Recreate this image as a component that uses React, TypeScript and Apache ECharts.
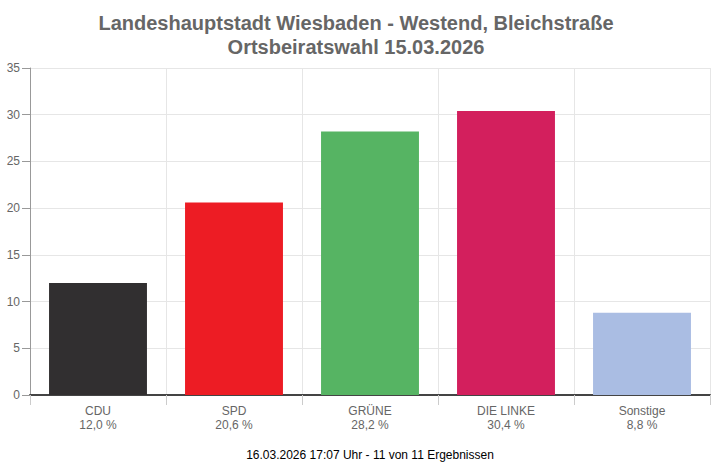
import React, { useEffect, useRef } from "react";
import * as echarts from "echarts";

const parties = ["CDU", "SPD", "GRÜNE", "DIE LINKE", "Sonstige"];
const shares = [12.0, 20.6, 28.2, 30.4, 8.8];
const colors = ["#312f30", "#ed1c24", "#56b463", "#d31f5d", "#aabde3"];
const titleLines = ["Landeshauptstadt Wiesbaden - Westend, Bleichstraße", "Ortsbeiratswahl 15.03.2026"];
const footer = "16.03.2026 17:07 Uhr - 11 von 11 Ergebnissen";

export default function App() {
  const ref = useRef<HTMLDivElement>(null);
  useEffect(() => {
    if (!ref.current) return;
    const chart = echarts.init(ref.current, null, { renderer: "svg" });
    const fmt = (v: number) => v.toFixed(1).replace(".", ",") + " %";
    chart.setOption({
      animation: false,
      title: {
        text: titleLines.join("\n"),
        left: "center",
        top: 6,
        textStyle: {
          fontFamily: "Liberation Sans, Arial, sans-serif",
          fontSize: 20,
          fontWeight: "bold",
          color: "#666666",
          lineHeight: 24,
        },
      },
      grid: { left: 30, right: 2, top: 68, bottom: 73, containLabel: false },
      xAxis: {
        type: "category",
        data: parties,
        axisLine: { lineStyle: { color: "#444444", width: 2 } },
        axisTick: { show: true, length: 10, lineStyle: { color: "#cccccc" } },
        splitLine: { show: true, lineStyle: { color: "#e6e6e6" } },
        axisLabel: {
          margin: 9,
          color: "#666666",
          fontSize: 12,
          lineHeight: 14,
          fontFamily: "Liberation Sans, Arial, sans-serif",
          formatter: (v: string, i: number) => v + "\n" + fmt(shares[i]),
        },
      },
      yAxis: {
        type: "value",
        min: 0,
        max: 35,
        interval: 5,
        axisLine: { show: true, lineStyle: { color: "#999999" } },
        axisTick: { show: true, length: 8, lineStyle: { color: "#999999" } },
        splitLine: { show: true, lineStyle: { color: "#e6e6e6" } },
        axisLabel: {
          margin: 10,
          color: "#666666",
          fontSize: 12,
          fontFamily: "Liberation Sans, Arial, sans-serif",
        },
      },
      series: [
        {
          type: "bar",
          data: shares.map((v, i) => ({ value: v, itemStyle: { color: colors[i] } })),
          barCategoryGap: "28%",
        },
      ],
      graphic: [
        {
          type: "text",
          x: 370,
          y: 455,
          style: {
            text: footer,
            fill: "#000000",
            fontSize: 12,
            fontFamily: "Liberation Sans, Arial, sans-serif",
            align: "center",
            verticalAlign: "middle",
          },
        },
      ],
    });
    return () => chart.dispose();
  }, []);
  return <div ref={ref} style={{ width: 712, height: 468, position: "absolute", left: 0, top: 0 }} />;
}
